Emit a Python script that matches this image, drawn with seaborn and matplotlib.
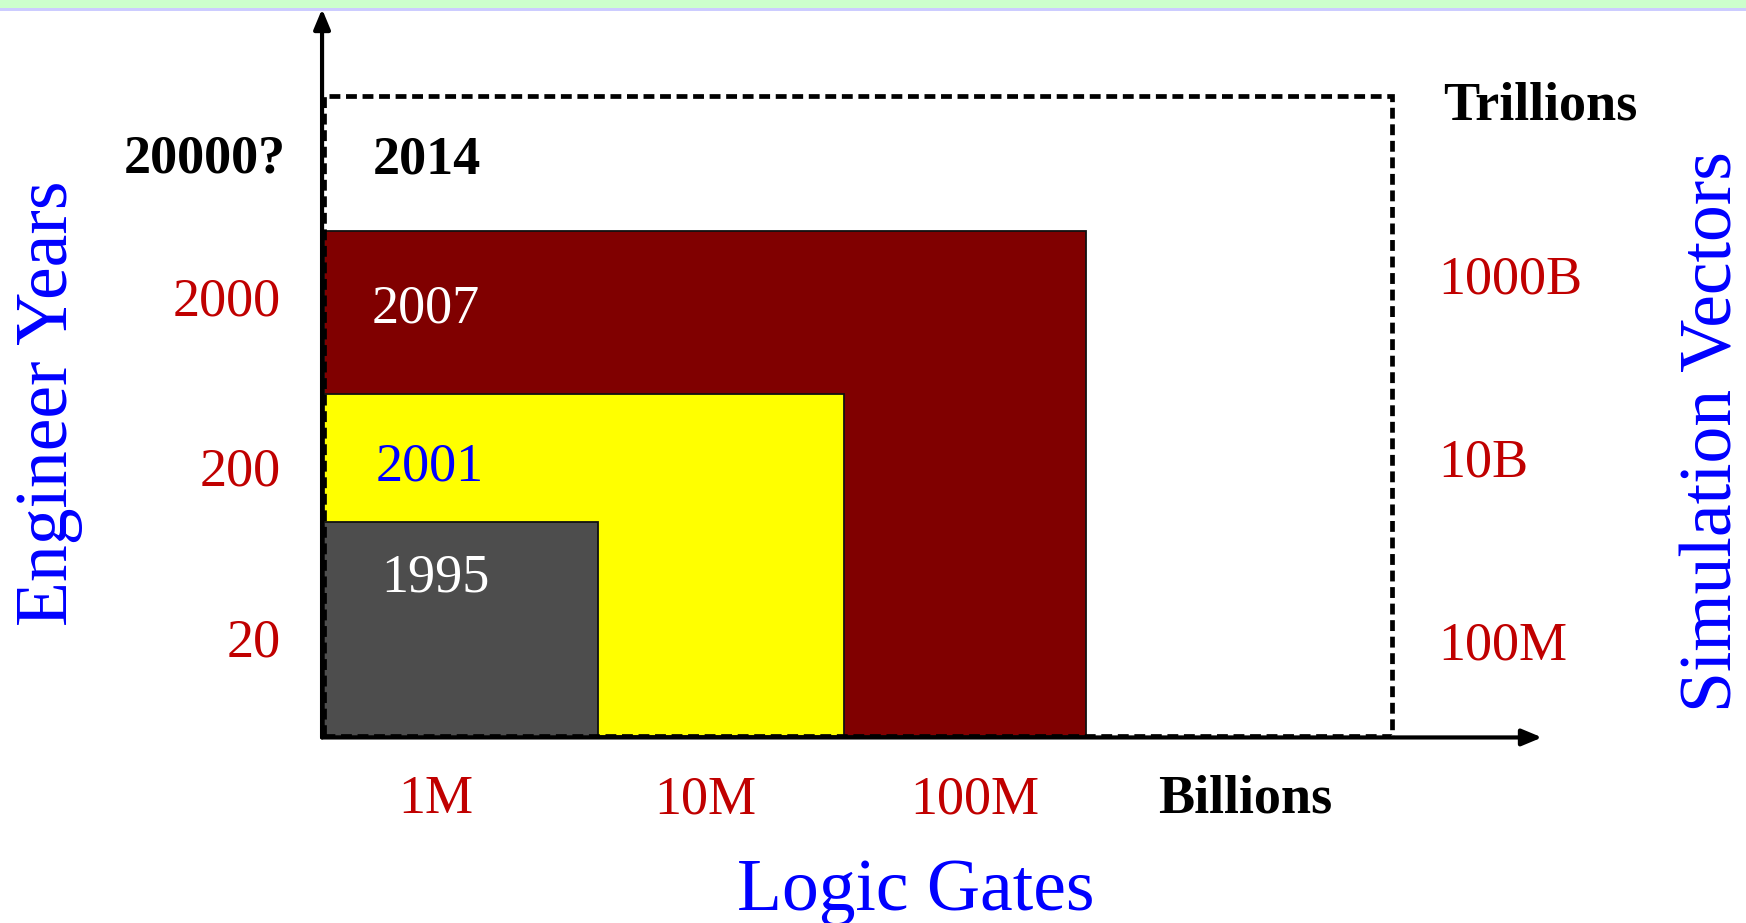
import matplotlib
matplotlib.use("Agg")
import matplotlib.pyplot as plt
import seaborn as sns
from matplotlib.patches import Rectangle

# Design generations: logic gates vs engineer years (both log scales)
years = ["1995", "2001", "2007", "2014"]
logic_gates = [4.0e6, 3.25e7, 2.57e8, 3.5e9]
engineer_years = [95, 530, 4850, 30000]

gate_ticks = [1e6, 1e7, 1e8, 1e9]
gate_tick_labels = ["1M", "10M", "100M", "Billions"]
year_ticks = [20, 200, 2000]
year_tick_labels = ["20", "200", "2000"]
vector_ticks = [1e8, 1e10, 1e12]
vector_tick_labels = ["100M", "10B", "1000B"]

fill_colors = ["#4d4d4d", "#ffff00", "#800000", "none"]
text_colors = ["white", "#0000ff", "white", "black"]
text_weights = ["normal", "normal", "normal", "bold"]
text_pos = [(0.0915, 0.2252), (0.0869, 0.3783), (0.0833, 0.5957), (0.0842, 0.7993)]

RED = "#c00000"
BLUE = "#0000ff"

# axis ranges
GATE_MIN, GATE_MAX = 10 ** 5.585, 10 ** 10.102
YEAR_MIN, YEAR_MAX = 10 ** 0.719, 10 ** 4.987
VEC_MIN, VEC_MAX = 10 ** 6.947, 10 ** 14.91

sns.set_theme(style="white")
plt.rcParams["font.family"] = ["Liberation Serif", "DejaVu Serif"]

W, H = 1746, 923
fig = plt.figure(figsize=(W / 100, H / 100), dpi=100)
fig.patch.set_facecolor("white")

# header strip
fig.add_artist(Rectangle((0, 1 - 8 / H), 1, 8 / H, transform=fig.transFigure,
                         facecolor="#ccffcc", edgecolor="none"))
fig.add_artist(Rectangle((0, 1 - 10.5 / H), 1, 2.5 / H, transform=fig.transFigure,
                         facecolor="#ccccff", edgecolor="none"))

x0, y0, x1, y1 = 324, 736, 1542, 9
ax = fig.add_axes([x0 / W, (H - y0) / H, (x1 - x0) / W, (y0 - y1) / H])
ax.set_facecolor("none")
ax.set_xscale("log")
ax.set_yscale("log")
ax.set_xlim(GATE_MIN, GATE_MAX)
ax.set_ylim(YEAR_MIN, YEAR_MAX)
for s in ax.spines.values():
    s.set_visible(False)

# generation rectangles, largest first
order = [2, 1, 0]
for z, i in enumerate(order):
    ax.bar(GATE_MIN, engineer_years[i] - YEAR_MIN, width=logic_gates[i] - GATE_MIN,
           bottom=YEAR_MIN, align="edge", color=fill_colors[i],
           edgecolor="#111111", linewidth=1.3, zorder=2 + z)
ax.bar(GATE_MIN, engineer_years[3] - YEAR_MIN, width=logic_gates[3] - GATE_MIN,
       bottom=YEAR_MIN, align="edge", fill=False, edgecolor="black",
       linewidth=3.4, linestyle=(0, (2.3, 1.2)), zorder=6)

for i, yr in enumerate(years):
    ax.text(text_pos[i][0], text_pos[i][1], yr, transform=ax.transAxes,
            ha="center", va="center_baseline", fontsize=39,
            color=text_colors[i], fontweight=text_weights[i], zorder=8)

# ticks
ax.minorticks_off()
ax.set_xticks(gate_ticks)
ax.set_xticklabels(gate_tick_labels)
ax.set_yticks(year_ticks)
ax.set_yticklabels(year_tick_labels)
ax.tick_params(axis="x", length=0, pad=28, labelsize=39, labelcolor=RED)
ax.tick_params(axis="y", length=0, pad=31, labelsize=39, labelcolor=RED)
for t in ax.get_xticklabels():
    if t.get_text() == "Billions":
        t.set_color("black")
        t.set_fontweight("bold")

ax.text(-0.0312, 0.801, "20000?", transform=ax.transAxes, ha="right",
        va="center_baseline", fontsize=39, fontweight="bold", color="black")

# axis titles
ax.set_xlabel("Logic Gates", fontsize=53, color=BLUE, va="center")
ax.xaxis.set_label_coords((916 - x0) / (x1 - x0), (y0 - 892) / (y0 - y1))
ax.set_ylabel("Engineer Years", fontsize=53, color=BLUE, va="center")
ax.yaxis.set_label_coords((49.6 - x0) / (x1 - x0), (y0 - 403.6) / (y0 - y1))

# axis arrows
arrow = dict(arrowstyle="-|>,head_length=0.6,head_width=0.25", color="black",
             lw=3.0, shrinkA=0, shrinkB=0, mutation_scale=20)
ax.annotate("", xy=(-0.0016, 1.0), xytext=(-0.0016, -0.002),
            xycoords="axes fraction", arrowprops=arrow, annotation_clip=False)
ax.annotate("", xy=(1.0, -0.002), xytext=(-0.0016, -0.002),
            xycoords="axes fraction", arrowprops=arrow, annotation_clip=False)

# simulation-vector scale on the right
xr = 1424
ax2 = fig.add_axes([x0 / W, (H - y0) / H, (xr - x0) / W, (y0 - y1) / H])
ax2.set_facecolor("none")
ax2.set_yscale("log")
ax2.set_ylim(VEC_MIN, VEC_MAX)
ax2.set_xticks([])
for s in ax2.spines.values():
    s.set_visible(False)
ax2.minorticks_off()
ax2.yaxis.tick_right()
ax2.set_yticks(vector_ticks)
ax2.set_yticklabels(vector_tick_labels)
ax2.tick_params(axis="y", length=0, pad=10, labelsize=39, labelcolor=RED)
ax2.yaxis.set_label_position("right")
ax2.set_ylabel("Simulation Vectors", fontsize=53, color=BLUE, rotation=90, va="center")
ax2.yaxis.set_label_coords((1713.6 - x0) / (xr - x0), (y0 - 431.5) / (y0 - y1))

ax2.text((1443 - x0) / (xr - x0), (y0 - 100) / (y0 - y1), "Trillions",
         transform=ax2.transAxes, ha="left", va="center_baseline",
         fontsize=39, fontweight="bold", color="black")

fig.savefig("out.png", dpi=100, facecolor="white")
